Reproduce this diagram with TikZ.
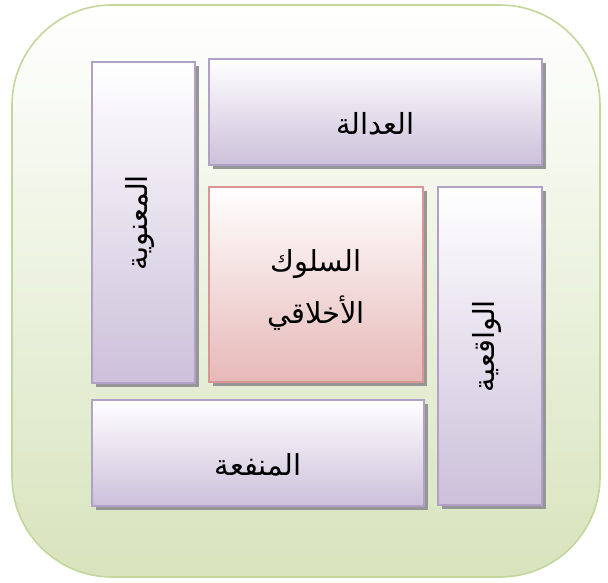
\documentclass[tikz,border=0pt]{standalone}
\usepackage{fontspec}
\usetikzlibrary{shadows}
\TeXXeTstate=1
\newfontfamily\arabicfont[Script=Arabic]{DejaVu Sans}
\definecolor{outerborder}{RGB}{195,214,155}
\definecolor{outerbottom}{RGB}{215,228,189}
\definecolor{purpborder}{RGB}{178,161,199}
\definecolor{purpbottom}{RGB}{204,192,218}
\definecolor{redborder}{RGB}{217,150,148}
\definecolor{redbottom}{RGB}{230,185,184}
\definecolor{shadowgray}{RGB}{150,150,150}
\tikzset{
  outerbox/.style={draw=outerborder, line width=1.6pt, rounded corners=100pt,
    top color=white, bottom color=outerbottom, inner sep=0pt},
  boxbase/.style={line width=1.6pt, inner sep=0pt,
    drop shadow={shadow xshift=3.5pt, shadow yshift=-3.5pt, fill=shadowgray, opacity=1}},
  purplebox/.style={boxbase, draw=purpborder, top color=white, bottom color=purpbottom},
  redbox/.style={boxbase, draw=redborder, top color=white, bottom color=redbottom},
  label/.style={font=\arabicfont\fontsize{29}{52}\selectfont, align=center, inner sep=0pt}
}
\begin{document}
\begin{tikzpicture}[x=1pt,y=-1pt]
\useasboundingbox (0,0) rectangle (608,582);
\node[outerbox, minimum width=588pt, minimum height=572pt] (outer) at (306,291) {};
\node[purplebox, minimum width=103pt, minimum height=321pt] (maanawiya) at (143.5,222.5) {};
\node[purplebox, minimum width=333pt, minimum height=106pt] (adala) at (375.5,112) {};
\node[redbox, minimum width=214pt, minimum height=195pt] (suluk) at (316,284.5) {};
\node[purplebox, minimum width=104pt, minimum height=318pt] (waqiiya) at (490,346) {};
\node[purplebox, minimum width=332pt, minimum height=106pt] (manfaa) at (258,453) {};
\node[label, rotate=90] (tm) at ([xshift=-3pt]maanawiya.center) {\beginR المعنوية\endR};
\node[label] (ta) at ([yshift=-12pt]adala.center) {\beginR العدالة\endR};
\node[label] (ts) at ([yshift=-6pt]suluk.center) {\beginR السلوك\endR\\\beginR الأخلاقي\endR};
\node[label, rotate=90] (tw) at ([xshift=-3pt]waqiiya.center) {\beginR الواقعية\endR};
\node[label] (tn) at ([yshift=-12pt]manfaa.center) {\beginR المنفعة\endR};
\end{tikzpicture}
\end{document}
